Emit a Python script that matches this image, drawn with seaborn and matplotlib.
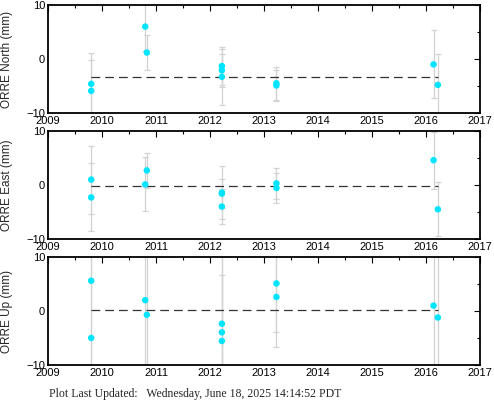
import numpy as np
import pandas as pd
import matplotlib
matplotlib.use("Agg")
import matplotlib.pyplot as plt
from matplotlib.ticker import MultipleLocator
import seaborn as sns

# epochs (decimal year), shared by all three components
t = [2009.80, 2009.80, 2010.80, 2010.83, 2012.22, 2012.22, 2012.22,
     2013.23, 2013.23, 2016.14, 2016.22]

north = [-4.6, -5.9, 6.0, 1.2, -1.3, -2.1, -3.3, -4.5, -4.9, -1.0, -4.8]
north_err = [5.8, 5.8, 4.5, 3.3, 3.5, 3.0, 5.2, 3.0, 2.8, 6.3, 5.8]

east = [1.0, -2.3, 0.1, 2.7, -1.4, -1.6, -4.0, 0.3, -0.55, 4.6, -4.5]
east_err = [6.3, 6.3, 5.0, 3.3, 4.9, 2.7, 3.2, 2.8, 2.8, 5.3, 5.0]

up = [5.6, -5.0, 2.0, -0.7, -2.35, -3.95, -5.55, 5.1, 2.6, 1.0, -1.2]
up_err = [16.0, 16.0, 14.0, 14.0, 9.0, 15.0, 16.0, 9.0, 9.3, 14.0, 14.0]

# weighted mean per component
means = {"North": -3.3, "East": -0.25, "Up": 0.13}

panels = [("North", north, north_err), ("East", east, east_err), ("Up", up, up_err)]
years = list(range(2009, 2018))

sns.set_style("white")
plt.rcParams["font.family"] = ["Liberation Sans", "DejaVu Sans"]

fig = plt.figure(figsize=(4.94, 4.04), dpi=100)
left, width, height = 48 / 494, 432 / 494, 108 / 404
bottoms = [1 - 113 / 404, 1 - 239 / 404, 1 - 365 / 404]

for (name, vals, errs), b in zip(panels, bottoms):
    ax = fig.add_axes([left, b, width, height])
    df = pd.DataFrame({"t": t, "v": vals, "e": errs})

    ax.errorbar(df["t"], df["v"], yerr=df["e"], fmt="none", ecolor="#d2d2d2",
                elinewidth=0.9, capsize=2, capthick=0.9, zorder=1)
    ax.plot([min(t), max(t)], [means[name], means[name]], ls=(0, (7, 4)),
            color="#333333", lw=0.9, zorder=2)
    sns.scatterplot(data=df, x="t", y="v", ax=ax, color="#00e5ff", s=22,
                    edgecolor="none", zorder=3, legend=False)

    ax.set_xlim(2009, 2017)
    ax.set_ylim(-10, 10)
    ax.set_xticks(years)
    ax.set_xticklabels([str(y) for y in years])
    ax.set_yticks([-10, 0, 10])
    ax.xaxis.set_minor_locator(MultipleLocator(0.5))
    ax.yaxis.set_minor_locator(MultipleLocator(5))
    ax.tick_params(which="both", direction="in", top=True, right=True,
                   colors="black", labelsize=8)
    ax.tick_params(which="major", length=4.5, width=0.8, pad=2)
    ax.tick_params(which="minor", length=2.5, width=0.8)
    for s in ax.spines.values():
        s.set_linewidth(1.3)
        s.set_color("black")
    ax.set_xlabel("")
    ax.set_ylabel(f"ORRE {name} (mm)", fontsize=8.5)
    ax.yaxis.set_label_coords(-0.082, 0.5)

fig.text(49 / 494, 1 - 397 / 404,
         "Plot Last Updated:   Wednesday, June 18, 2025 14:14:52 PDT",
         fontsize=8.5, family=["Liberation Serif", "DejaVu Serif"], va="baseline")

fig.savefig("out.png", dpi=100)
